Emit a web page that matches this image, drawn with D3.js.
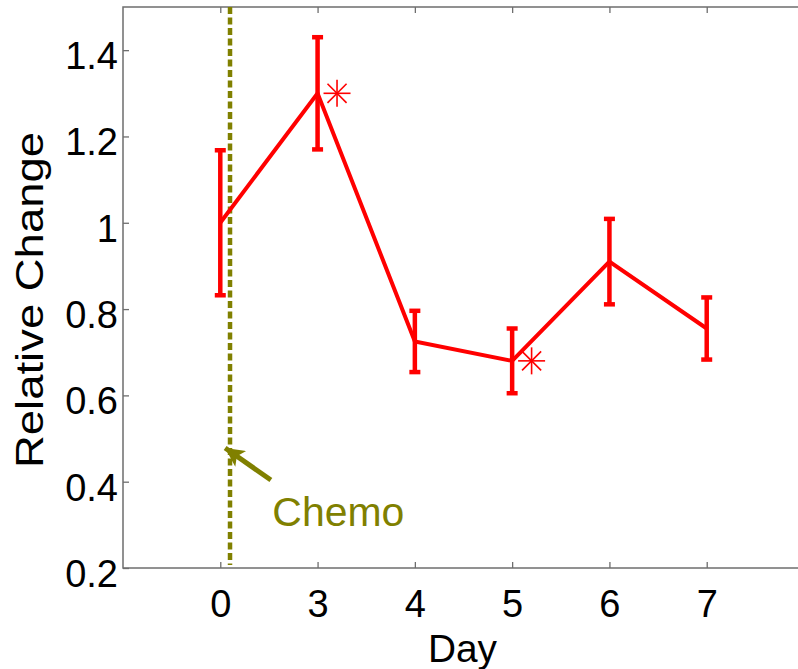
<!DOCTYPE html>
<html>
<head>
<meta charset="utf-8">
<script src="https://cdn.jsdelivr.net/npm/d3@7"></script>
<style>
  html, body { margin: 0; padding: 0; background: #fff; }
  svg { display: block; }
  text { font-family: "Liberation Sans", Arial, Helvetica, sans-serif; }
</style>
</head>
<body>
<div id="chart"></div>
<script>
// Day labels, plotted at evenly spaced positions
const days = ["0", "3", "4", "5", "6", "7"];
// Mean relative change per day
const means = [1.00, 1.30, 0.725, 0.68, 0.91, 0.755];
// Half-length of each error bar
const errors = [0.168, 0.13, 0.071, 0.075, 0.099, 0.072];
// Days flagged as significant (asterisk)
const significant = [false, true, false, true, false, false];
// Y axis tick values
const yTicks = [0.2, 0.4, 0.6, 0.8, 1.0, 1.2, 1.4];

// Chemo event line position (on the day-index scale) and its annotation
const chemoX = 0.1;
const chemoArrowTip = [0.05, 0.478];
const chemoArrowTail = [0.52, 0.404];
const chemoLabelAt = [0.535, 0.297];

const W = 798, H = 669;
const plotLeft = 123, plotRight = 804, plotTop = 7, plotBottom = 568;
const FS = 38;
const red = "#ff0000";
const olive = "#808000";
const frame = "#6e6e6e";

const svg = d3.select("#chart").append("svg")
  .attr("width", W).attr("height", H);

const x = d3.scaleLinear().domain([-1, days.length]).range([plotLeft, plotRight]);
const y = d3.scaleLinear().domain([0.2, 1.5]).range([plotBottom, plotTop]);

const idx = d3.range(days.length);

// Axis box with inward ticks on all sides
svg.append("rect")
  .attr("x", plotLeft).attr("y", plotTop)
  .attr("width", plotRight - plotLeft).attr("height", plotBottom - plotTop)
  .attr("fill", "none").attr("stroke", frame).attr("stroke-width", 1.5);

const tickLen = 6;
const bottomAxis = d3.axisBottom(x).tickValues(idx).tickSize(-tickLen).tickFormat(i => days[i]);
const topAxis = d3.axisTop(x).tickValues(idx).tickSize(-tickLen).tickFormat("");
const leftAxis = d3.axisLeft(y).tickValues(yTicks).tickSize(-tickLen).tickFormat(d => String(+d.toFixed(1)));
const rightAxis = d3.axisRight(y).tickValues(yTicks).tickSize(-tickLen).tickFormat("");

function styleAxis(g) {
  g.select(".domain").remove();
  g.selectAll(".tick line").attr("stroke", frame).attr("stroke-width", 1.3);
  g.selectAll(".tick text").attr("fill", "#000").attr("font-size", FS)
    .attr("font-family", "'Liberation Sans', Arial, Helvetica, sans-serif");
}

const gx = svg.append("g").attr("transform", `translate(0,${plotBottom})`).call(bottomAxis).call(styleAxis);
gx.selectAll(".tick text").attr("dy", null).attr("y", 49);

svg.append("g").attr("transform", `translate(0,${plotTop})`).call(topAxis).call(styleAxis);

const gy = svg.append("g").attr("transform", `translate(${plotLeft},0)`).call(leftAxis).call(styleAxis);
gy.selectAll(".tick text").attr("dy", null).attr("x", -5).attr("y", 18.5).attr("text-anchor", "end");

svg.append("g").attr("transform", `translate(${plotRight},0)`).call(rightAxis).call(styleAxis);

// Axis titles
svg.append("text")
  .attr("x", (plotLeft + plotRight) / 2 - 1).attr("y", 662)
  .attr("text-anchor", "middle").attr("font-size", FS).attr("fill", "#000")
  .attr("textLength", 69).attr("lengthAdjust", "spacingAndGlyphs")
  .text("Day");

svg.append("text")
  .attr("transform", `translate(43,300) rotate(-90)`)
  .attr("text-anchor", "middle").attr("font-size", 39).attr("fill", "#000")
  .attr("textLength", 336).attr("lengthAdjust", "spacingAndGlyphs")
  .text("Relative Change");

// Chemo dashed line
svg.append("line")
  .attr("x1", x(chemoX)).attr("x2", x(chemoX))
  .attr("y1", y(1.5)).attr("y2", y(0.2) - 3)
  .attr("stroke", olive).attr("stroke-width", 4.5)
  .attr("stroke-dasharray", "7,3.5");

// Arrow pointing at the chemo line
const defs = svg.append("defs");
defs.append("marker")
  .attr("id", "arrowHead")
  .attr("viewBox", "0 0 10 10")
  .attr("refX", 10).attr("refY", 5)
  .attr("markerUnits", "userSpaceOnUse")
  .attr("markerWidth", 22).attr("markerHeight", 19)
  .attr("orient", "auto")
  .append("path").attr("d", "M0,0 L10,5 L0,10 L2.5,5 Z").attr("fill", olive);

svg.append("line")
  .attr("x1", x(chemoArrowTail[0])).attr("y1", y(chemoArrowTail[1]))
  .attr("x2", x(chemoArrowTip[0])).attr("y2", y(chemoArrowTip[1]))
  .attr("stroke", olive).attr("stroke-width", 5)
  .attr("marker-end", "url(#arrowHead)");

svg.append("text")
  .attr("x", x(chemoLabelAt[0])).attr("y", y(chemoLabelAt[1]))
  .attr("font-size", 40).attr("fill", olive)
  .attr("textLength", 132).attr("lengthAdjust", "spacingAndGlyphs")
  .text("Chemo");

// Mean line
const line = d3.line().x(i => x(i)).y(i => y(means[i]));
svg.append("path")
  .datum(idx)
  .attr("d", line)
  .attr("fill", "none").attr("stroke", red).attr("stroke-width", 4)
  .attr("stroke-linejoin", "miter");

// Error bars
const capHalf = 5.5;
const eb = svg.append("g").attr("stroke", red).attr("stroke-width", 4.5);
idx.forEach(i => {
  const hi = y(means[i] + errors[i]), lo = y(means[i] - errors[i]), cx = x(i);
  eb.append("line").attr("x1", cx).attr("x2", cx).attr("y1", hi).attr("y2", lo);
  eb.append("line").attr("x1", cx - capHalf).attr("x2", cx + capHalf).attr("y1", hi).attr("y2", hi);
  eb.append("line").attr("x1", cx - capHalf).attr("x2", cx + capHalf).attr("y1", lo).attr("y2", lo);
});

// Significance asterisks beside flagged points
const r = 13.5;
const ast = svg.append("g").attr("stroke", red).attr("stroke-width", 1.6);
idx.filter(i => significant[i]).forEach(i => {
  const cx = x(i + 0.2), cy = y(means[i]);
  [0, 45, 90, 135].forEach(a => {
    const rad = a * Math.PI / 180;
    const dx = r * Math.cos(rad), dy = r * Math.sin(rad);
    ast.append("line")
      .attr("x1", cx - dx).attr("y1", cy - dy)
      .attr("x2", cx + dx).attr("y2", cy + dy);
  });
});
</script>
</body>
</html>
